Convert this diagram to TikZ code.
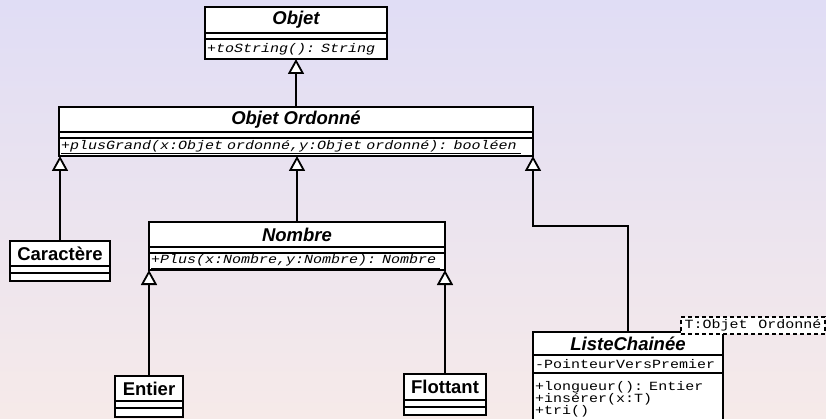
\documentclass[tikz,border=0pt]{standalone}
\usepackage{fontspec}
\usepackage{tikz}
\usetikzlibrary{arrows.meta}
\usetikzlibrary{positioning}

\newfontfamily\umlsans{Liberation Sans}
\newfontfamily\umlmono{Liberation Mono}[FakeStretch=1.2,WordSpace=1.2,
    ItalicFeatures={FakeStretch=1.2},UprightFeatures={FakeStretch=1.2}]
\definecolor{fondhaut}{RGB}{224,221,245}
\definecolor{fondbas}{RGB}{246,234,233}

\begin{document}
\begin{tikzpicture}[x=1pt,y=-1pt,line width=1.8pt,
    class name/.style={draw,fill=white,inner sep=0pt,outer sep=0pt,minimum height=25pt,
        font=\umlsans\bfseries\fontsize{18.5}{20}\selectfont},
    abstract/.style={class name,font=\umlsans\bfseries\itshape\fontsize{18.5}{20}\selectfont},
    class part/.style={draw,fill=white,inner xsep=2pt,inner ysep=0pt,outer sep=0pt,anchor=north,
        align=left,font=\umlmono\fontsize{12.5}{12}\selectfont},
    param/.style={draw,fill=white,dash pattern=on 4pt off 3pt,inner sep=0pt,
        minimum width=144pt,minimum height=17pt,font=\umlmono\fontsize{12.5}{12}\selectfont},
    inherit/.style={-{Triangle[fill=white,width=16pt,length=15pt]}}]

    \shade[top color=fondhaut,bottom color=fondbas] (0,0) rectangle (826,419);
    \useasboundingbox (0,0) rectangle (826,419);

    % classes
    \node[abstract,minimum width=182pt,minimum height=26pt] (objet) at (296,20) {Objet};
    \node[class part,text width=178pt,minimum height=6pt,below=0pt of objet] (objetA) {};
    \node[class part,text width=178pt,minimum height=20pt,below=0pt of objetA] (objetM) {\itshape +toString(): String};

    \node[abstract,minimum width=474pt] (ordonne) at (296,119.5) {Objet Ordonné};
    \node[class part,text width=470pt,minimum height=6pt,below=0pt of ordonne] (ordonneA) {};
    \node[class part,text width=470pt,minimum height=18pt,below=0pt of ordonneA] (ordonneM)
        {\itshape\underline{+plusGrand(x:Objet ordonné,y:Objet ordonné): booléen\ }};

    \node[class name,minimum width=100pt] (caractere) at (60,253.5) {Caractère};
    \node[class part,text width=96pt,minimum height=7pt,below=0pt of caractere] (caractereA) {};
    \node[class part,text width=96pt,minimum height=8pt,below=0pt of caractereA] (caractereM) {};

    \node[abstract,minimum width=296pt] (nombre) at (297,234.5) {Nombre};
    \node[class part,text width=292pt,minimum height=6pt,below=0pt of nombre] (nombreA) {};
    \node[class part,text width=292pt,minimum height=17pt,below=0pt of nombreA] (nombreM)
        {\itshape\underline{+Plus(x:Nombre,y:Nombre): Nombre\ }};

    \node[class name,minimum width=68pt] (entier) at (149,388.5) {Entier};
    \node[class part,text width=64pt,minimum height=7pt,below=0pt of entier] (entierA) {};
    \node[class part,text width=64pt,minimum height=9pt,below=0pt of entierA] (entierM) {};

    \node[class name,minimum width=82pt,minimum height=26pt] (flottant) at (445,387) {Flottant};
    \node[class part,text width=78pt,minimum height=7pt,below=0pt of flottant] (flottantA) {};
    \node[class part,text width=78pt,minimum height=8pt,below=0pt of flottantA] (flottantM) {};

    \node[abstract,minimum width=190pt,minimum height=23pt] (liste) at (628,343.5) {ListeChainée};
    \node[class part,text width=186pt,minimum height=18pt,below=0pt of liste] (listeA) {-PointeurVersPremier};
    \node[class part,text width=186pt,minimum height=52pt,below=0pt of listeA] (listeM)
        {+longueur(): Entier\\+insérer(x:T)\\+tri()};
    \node[param] (modele) at (753,325.5) {T:Objet Ordonné};

    % generalisations
    \coordinate (coude) at (533,226);
    \draw[inherit] (ordonne.north) -- (objetM.south);
    \draw[inherit] (caractere.north) -- (caractere.north |- ordonneM.south);
    \draw[inherit] (nombre.north) -- (nombre.north |- ordonneM.south);
    \draw[inherit] (liste.north) |- (coude) -- (ordonneM.south east);
    \draw[inherit] (entier.north) -- (entier.north |- nombreM.south);
    \draw[inherit] (flottant.north) -- (flottant.north |- nombreM.south);
\end{tikzpicture}
\end{document}
